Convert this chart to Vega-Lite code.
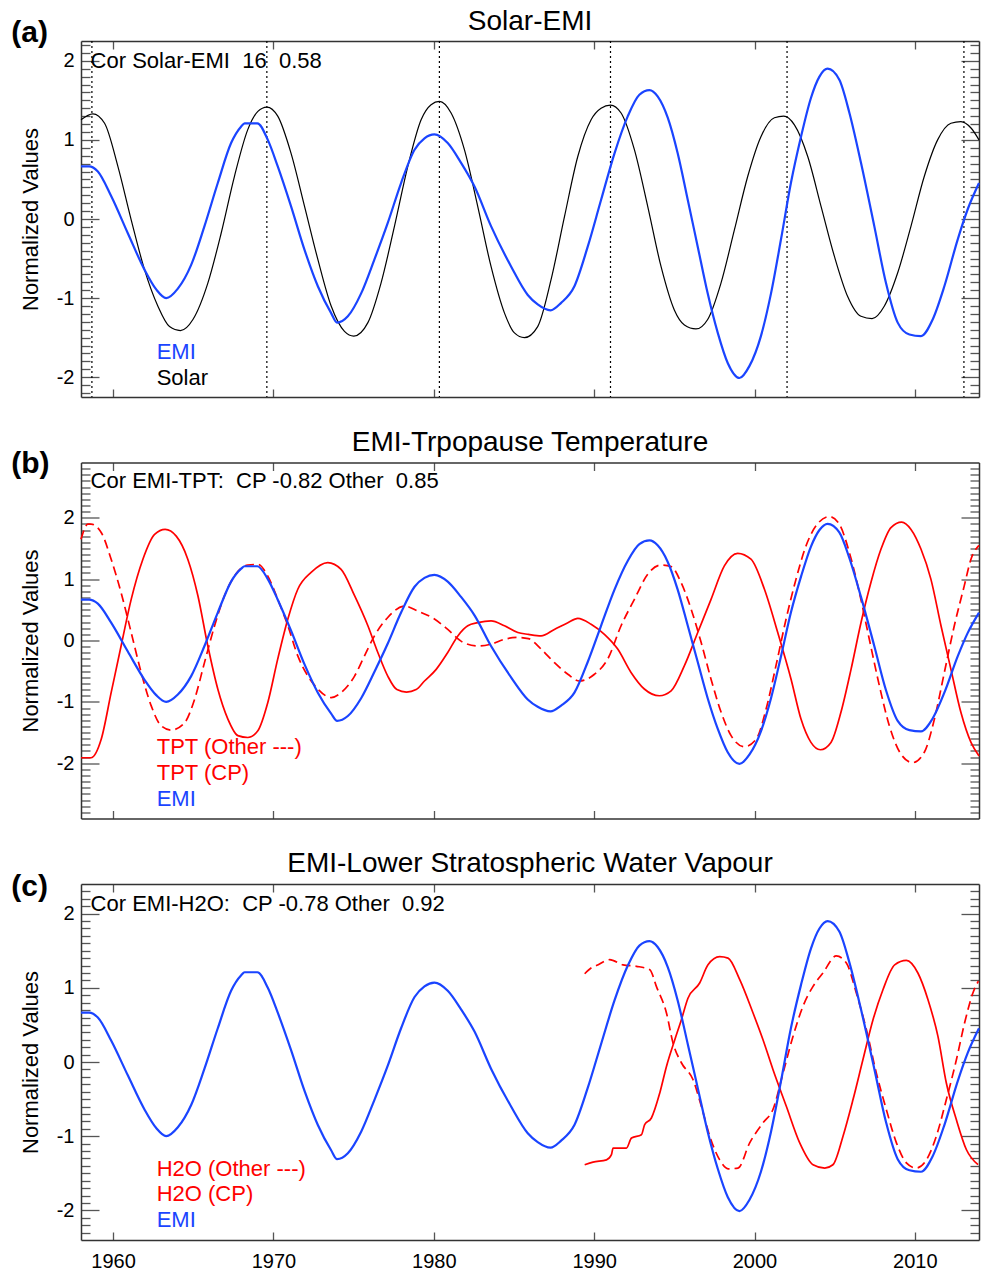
{
  "$schema": "https://vega.github.io/schema/vega-lite/v6.json",
  "padding": {"left": 11, "top": 8, "right": 3, "bottom": 5},
  "autosize": {"type": "pad"},
  "background": "white",
  "spacing": 65.5,
  "bounds": "flush",
  "datasets": {
    "maxima": [{"year": 1958.68}, {"year": 1969.59}, {"year": 1980.35}, {"year": 1991.02}, {"year": 2002.03}, {"year": 2013.06}],
    "emi": [
      {"year": 1958.0, "value": 0.665}, {"year": 1958.5, "value": 0.665}, {"year": 1959.05, "value": 0.6}, {"year": 1959.88, "value": 0.29},
      {"year": 1960.92, "value": -0.18}, {"year": 1961.96, "value": -0.64}, {"year": 1962.69, "value": -0.89}, {"year": 1963.31, "value": -1.0},
      {"year": 1964.04, "value": -0.88}, {"year": 1964.87, "value": -0.58}, {"year": 1965.7, "value": -0.09}, {"year": 1966.53, "value": 0.455},
      {"year": 1967.36, "value": 0.96}, {"year": 1967.99, "value": 1.17}, {"year": 1968.2, "value": 1.21}, {"year": 1969.0, "value": 1.21},
      {"year": 1969.65, "value": 1.0}, {"year": 1970.27, "value": 0.665}, {"year": 1971.1, "value": 0.16}, {"year": 1971.94, "value": -0.39},
      {"year": 1972.77, "value": -0.85}, {"year": 1973.6, "value": -1.19}, {"year": 1973.97, "value": -1.31}, {"year": 1974.64, "value": -1.23},
      {"year": 1975.47, "value": -0.94}, {"year": 1976.3, "value": -0.51}, {"year": 1977.13, "value": -0.05}, {"year": 1977.96, "value": 0.455},
      {"year": 1978.8, "value": 0.876}, {"year": 1979.42, "value": 1.02}, {"year": 1980.04, "value": 1.07}, {"year": 1980.87, "value": 0.96},
      {"year": 1981.7, "value": 0.71}, {"year": 1982.54, "value": 0.41}, {"year": 1983.57, "value": -0.09}, {"year": 1984.82, "value": -0.6},
      {"year": 1985.86, "value": -0.96}, {"year": 1986.48, "value": -1.08}, {"year": 1987.28, "value": -1.155}, {"year": 1987.94, "value": -1.06},
      {"year": 1988.77, "value": -0.85}, {"year": 1989.6, "value": -0.35}, {"year": 1990.43, "value": 0.24}, {"year": 1991.27, "value": 0.83},
      {"year": 1992.1, "value": 1.3}, {"year": 1992.82, "value": 1.57}, {"year": 1993.45, "value": 1.63}, {"year": 1993.96, "value": 1.55},
      {"year": 1994.59, "value": 1.28}, {"year": 1995.21, "value": 0.83}, {"year": 1995.84, "value": 0.24}, {"year": 1996.46, "value": -0.35},
      {"year": 1997.08, "value": -0.94}, {"year": 1997.71, "value": -1.44}, {"year": 1998.33, "value": -1.82}, {"year": 1999.06, "value": -2.01},
      {"year": 1999.68, "value": -1.86}, {"year": 2000.4, "value": -1.48}, {"year": 2001.03, "value": -0.94}, {"year": 2001.65, "value": -0.26},
      {"year": 2002.27, "value": 0.455}, {"year": 2002.9, "value": 1.04}, {"year": 2003.52, "value": 1.53}, {"year": 2004.05, "value": 1.8},
      {"year": 2004.56, "value": 1.9}, {"year": 2005.29, "value": 1.76}, {"year": 2005.92, "value": 1.34}, {"year": 2006.64, "value": 0.71},
      {"year": 2007.47, "value": -0.09}, {"year": 2008.2, "value": -0.81}, {"year": 2008.93, "value": -1.31}, {"year": 2009.66, "value": -1.46},
      {"year": 2010.38, "value": -1.48}, {"year": 2011.11, "value": -1.27}, {"year": 2011.84, "value": -0.85}, {"year": 2012.67, "value": -0.26},
      {"year": 2013.29, "value": 0.12}, {"year": 2014.0, "value": 0.455}
    ],
    "solar": [
      {"year": 1958.0, "value": 1.255}, {"year": 1958.74, "value": 1.33}, {"year": 1959.47, "value": 1.21}, {"year": 1960.3, "value": 0.665},
      {"year": 1961.13, "value": -0.01}, {"year": 1961.96, "value": -0.64}, {"year": 1962.79, "value": -1.1}, {"year": 1963.52, "value": -1.36},
      {"year": 1964.2, "value": -1.41}, {"year": 1964.98, "value": -1.27}, {"year": 1965.91, "value": -0.81}, {"year": 1966.74, "value": -0.18},
      {"year": 1967.57, "value": 0.54}, {"year": 1968.4, "value": 1.13}, {"year": 1969.03, "value": 1.36}, {"year": 1969.59, "value": 1.415},
      {"year": 1970.27, "value": 1.3}, {"year": 1971.1, "value": 0.83}, {"year": 1971.94, "value": 0.16}, {"year": 1972.77, "value": -0.51},
      {"year": 1973.6, "value": -1.1}, {"year": 1974.43, "value": -1.42}, {"year": 1975.01, "value": -1.48}, {"year": 1975.89, "value": -1.31},
      {"year": 1976.71, "value": -0.81}, {"year": 1977.55, "value": -0.09}, {"year": 1978.38, "value": 0.665}, {"year": 1979.21, "value": 1.255},
      {"year": 1979.83, "value": 1.445}, {"year": 1980.35, "value": 1.487}, {"year": 1981.08, "value": 1.34}, {"year": 1981.91, "value": 0.876},
      {"year": 1982.74, "value": 0.16}, {"year": 1983.57, "value": -0.6}, {"year": 1984.41, "value": -1.19}, {"year": 1985.03, "value": -1.44},
      {"year": 1985.65, "value": -1.5}, {"year": 1986.48, "value": -1.36}, {"year": 1987.31, "value": -0.77}, {"year": 1988.15, "value": 0.03},
      {"year": 1988.98, "value": 0.79}, {"year": 1989.81, "value": 1.255}, {"year": 1990.43, "value": 1.4}, {"year": 1991.02, "value": 1.44},
      {"year": 1991.68, "value": 1.34}, {"year": 1992.51, "value": 0.876}, {"year": 1993.34, "value": 0.16}, {"year": 1994.17, "value": -0.6},
      {"year": 1995.0, "value": -1.15}, {"year": 1995.63, "value": -1.34}, {"year": 1996.35, "value": -1.39}, {"year": 1997.08, "value": -1.27},
      {"year": 1997.91, "value": -0.81}, {"year": 1998.75, "value": -0.135}, {"year": 1999.58, "value": 0.54}, {"year": 2000.4, "value": 1.04},
      {"year": 2001.24, "value": 1.28}, {"year": 2001.82, "value": 1.3}, {"year": 2002.49, "value": 1.19}, {"year": 2003.32, "value": 0.79},
      {"year": 2004.15, "value": 0.16}, {"year": 2004.98, "value": -0.47}, {"year": 2005.81, "value": -0.98}, {"year": 2006.64, "value": -1.23},
      {"year": 2007.33, "value": -1.26}, {"year": 2008.1, "value": -1.1}, {"year": 2008.93, "value": -0.68}, {"year": 2009.76, "value": -0.09},
      {"year": 2010.59, "value": 0.54}, {"year": 2011.42, "value": 1.0}, {"year": 2012.25, "value": 1.21}, {"year": 2012.87, "value": 1.23},
      {"year": 2013.5, "value": 1.15}, {"year": 2014.0, "value": 1.0}
    ],
    "tpt_cp": [
      {"year": 1958.0, "value": -1.91}, {"year": 1958.63, "value": -1.91}, {"year": 1959.26, "value": -1.61}, {"year": 1959.88, "value": -0.85},
      {"year": 1960.5, "value": -0.09}, {"year": 1961.13, "value": 0.67}, {"year": 1961.86, "value": 1.325}, {"year": 1962.59, "value": 1.73},
      {"year": 1963.25, "value": 1.81}, {"year": 1963.94, "value": 1.7}, {"year": 1964.66, "value": 1.325}, {"year": 1965.29, "value": 0.73},
      {"year": 1965.91, "value": -0.09}, {"year": 1966.53, "value": -0.79}, {"year": 1967.16, "value": -1.28}, {"year": 1967.78, "value": -1.55},
      {"year": 1968.4, "value": -1.58}, {"year": 1969.03, "value": -1.47}, {"year": 1969.65, "value": -1.01}, {"year": 1970.27, "value": -0.3},
      {"year": 1970.9, "value": 0.35}, {"year": 1971.52, "value": 0.835}, {"year": 1972.35, "value": 1.11}, {"year": 1973.39, "value": 1.27},
      {"year": 1974.22, "value": 1.16}, {"year": 1975.06, "value": 0.73}, {"year": 1975.89, "value": 0.24}, {"year": 1976.51, "value": -0.195},
      {"year": 1977.13, "value": -0.58}, {"year": 1977.7, "value": -0.8}, {"year": 1978.3, "value": -0.84}, {"year": 1978.9, "value": -0.8},
      {"year": 1979.42, "value": -0.66}, {"year": 1980.15, "value": -0.47}, {"year": 1980.87, "value": -0.195}, {"year": 1981.5, "value": 0.075},
      {"year": 1982.12, "value": 0.24}, {"year": 1982.74, "value": 0.29}, {"year": 1983.57, "value": 0.32}, {"year": 1984.41, "value": 0.24},
      {"year": 1985.24, "value": 0.13}, {"year": 1985.9, "value": 0.1}, {"year": 1986.69, "value": 0.075}, {"year": 1987.52, "value": 0.18},
      {"year": 1988.36, "value": 0.29}, {"year": 1988.98, "value": 0.36}, {"year": 1989.81, "value": 0.265}, {"year": 1990.64, "value": 0.1},
      {"year": 1991.47, "value": -0.14}, {"year": 1992.3, "value": -0.52}, {"year": 1993.13, "value": -0.79}, {"year": 1994.07, "value": -0.9},
      {"year": 1994.8, "value": -0.82}, {"year": 1995.63, "value": -0.41}, {"year": 1996.46, "value": 0.13}, {"year": 1997.29, "value": 0.67},
      {"year": 1998.12, "value": 1.215}, {"year": 1998.95, "value": 1.42}, {"year": 1999.78, "value": 1.325}, {"year": 2000.62, "value": 0.835},
      {"year": 2001.45, "value": 0.13}, {"year": 2002.28, "value": -0.63}, {"year": 2002.9, "value": -1.28}, {"year": 2003.52, "value": -1.66},
      {"year": 2004.11, "value": -1.78}, {"year": 2004.77, "value": -1.66}, {"year": 2005.39, "value": -1.17}, {"year": 2006.02, "value": -0.47},
      {"year": 2006.64, "value": 0.29}, {"year": 2007.26, "value": 0.945}, {"year": 2007.89, "value": 1.49}, {"year": 2008.51, "value": 1.84},
      {"year": 2009.18, "value": 1.93}, {"year": 2009.76, "value": 1.81}, {"year": 2010.38, "value": 1.49}, {"year": 2011.0, "value": 1.0},
      {"year": 2011.63, "value": 0.24}, {"year": 2012.25, "value": -0.47}, {"year": 2012.87, "value": -1.17}, {"year": 2013.5, "value": -1.66},
      {"year": 2014.0, "value": -1.88}
    ],
    "tpt_other": [
      {"year": 1958.0, "value": 1.65}, {"year": 1958.43, "value": 1.895}, {"year": 1958.63, "value": 1.895}, {"year": 1959.26, "value": 1.76},
      {"year": 1959.88, "value": 1.325}, {"year": 1960.5, "value": 0.78}, {"year": 1961.13, "value": 0.13}, {"year": 1961.75, "value": -0.52},
      {"year": 1962.38, "value": -1.065}, {"year": 1963.0, "value": -1.39}, {"year": 1963.62, "value": -1.46}, {"year": 1964.46, "value": -1.34},
      {"year": 1965.08, "value": -0.96}, {"year": 1965.7, "value": -0.36}, {"year": 1966.33, "value": 0.24}, {"year": 1966.95, "value": 0.73},
      {"year": 1967.57, "value": 1.05}, {"year": 1968.4, "value": 1.23}, {"year": 1969.03, "value": 1.24}, {"year": 1969.65, "value": 1.05},
      {"year": 1970.27, "value": 0.67}, {"year": 1970.9, "value": 0.24}, {"year": 1971.52, "value": -0.25}, {"year": 1972.15, "value": -0.58},
      {"year": 1972.77, "value": -0.79}, {"year": 1973.6, "value": -0.93}, {"year": 1974.22, "value": -0.85}, {"year": 1975.06, "value": -0.58},
      {"year": 1975.68, "value": -0.25}, {"year": 1976.3, "value": 0.075}, {"year": 1977.13, "value": 0.375}, {"year": 1978.17, "value": 0.56},
      {"year": 1979.0, "value": 0.48}, {"year": 1980.04, "value": 0.35}, {"year": 1980.87, "value": 0.18}, {"year": 1981.7, "value": -0.01},
      {"year": 1982.74, "value": -0.09}, {"year": 1983.57, "value": -0.06}, {"year": 1984.41, "value": 0.02}, {"year": 1985.24, "value": 0.05},
      {"year": 1985.9, "value": 0.03}, {"year": 1986.69, "value": -0.14}, {"year": 1987.52, "value": -0.36}, {"year": 1988.36, "value": -0.55},
      {"year": 1989.08, "value": -0.66}, {"year": 1990.02, "value": -0.55}, {"year": 1990.85, "value": -0.3}, {"year": 1991.68, "value": 0.24},
      {"year": 1992.51, "value": 0.67}, {"year": 1993.34, "value": 1.08}, {"year": 1994.17, "value": 1.23}, {"year": 1994.8, "value": 1.205},
      {"year": 1995.42, "value": 0.945}, {"year": 1996.05, "value": 0.51}, {"year": 1996.67, "value": -0.03}, {"year": 1997.29, "value": -0.63},
      {"year": 1997.92, "value": -1.17}, {"year": 1998.54, "value": -1.55}, {"year": 1999.37, "value": -1.73}, {"year": 2000.1, "value": -1.61},
      {"year": 2000.72, "value": -1.12}, {"year": 2001.34, "value": -0.41}, {"year": 2001.97, "value": 0.35}, {"year": 2002.59, "value": 1.0},
      {"year": 2003.21, "value": 1.54}, {"year": 2003.84, "value": 1.87}, {"year": 2004.67, "value": 2.02}, {"year": 2005.29, "value": 1.895},
      {"year": 2005.92, "value": 1.43}, {"year": 2006.54, "value": 0.78}, {"year": 2007.16, "value": 0.02}, {"year": 2007.79, "value": -0.74},
      {"year": 2008.41, "value": -1.39}, {"year": 2009.13, "value": -1.85}, {"year": 2009.86, "value": -1.99}, {"year": 2010.59, "value": -1.82},
      {"year": 2011.22, "value": -1.28}, {"year": 2011.84, "value": -0.52}, {"year": 2012.46, "value": 0.24}, {"year": 2013.08, "value": 0.89},
      {"year": 2013.5, "value": 1.325}, {"year": 2014.0, "value": 1.55}
    ],
    "h2o_cp": [
      {"year": 1989.41, "value": -1.385}, {"year": 1989.93, "value": -1.35}, {"year": 1990.77, "value": -1.32}, {"year": 1991.08, "value": -1.25},
      {"year": 1991.18, "value": -1.16}, {"year": 1992.01, "value": -1.16}, {"year": 1992.33, "value": -1.025}, {"year": 1992.95, "value": -0.98},
      {"year": 1993.15, "value": -0.845}, {"year": 1993.57, "value": -0.755}, {"year": 1994.09, "value": -0.42}, {"year": 1994.51, "value": -0.06},
      {"year": 1995.03, "value": 0.3}, {"year": 1995.44, "value": 0.57}, {"year": 1995.85, "value": 0.86}, {"year": 1996.58, "value": 1.065},
      {"year": 1997.1, "value": 1.31}, {"year": 1997.83, "value": 1.42}, {"year": 1998.35, "value": 1.4}, {"year": 1999.08, "value": 1.11},
      {"year": 1999.91, "value": 0.66}, {"year": 2000.53, "value": 0.3}, {"year": 2001.15, "value": -0.1}, {"year": 2001.99, "value": -0.6},
      {"year": 2002.82, "value": -1.09}, {"year": 2003.65, "value": -1.385}, {"year": 2004.38, "value": -1.43}, {"year": 2004.89, "value": -1.385},
      {"year": 2005.52, "value": -1.0}, {"year": 2006.14, "value": -0.51}, {"year": 2006.76, "value": 0.03}, {"year": 2007.39, "value": 0.57},
      {"year": 2008.01, "value": 0.975}, {"year": 2008.74, "value": 1.31}, {"year": 2009.47, "value": 1.37}, {"year": 2010.19, "value": 1.2},
      {"year": 2010.82, "value": 0.84}, {"year": 2011.44, "value": 0.345}, {"year": 2011.96, "value": -0.28}, {"year": 2012.59, "value": -0.78},
      {"year": 2013.21, "value": -1.18}, {"year": 2013.94, "value": -1.385}
    ],
    "h2o_other": [
      {"year": 1989.41, "value": 1.19}, {"year": 1989.83, "value": 1.27}, {"year": 1990.14, "value": 1.3}, {"year": 1990.97, "value": 1.38},
      {"year": 1991.8, "value": 1.31}, {"year": 1992.64, "value": 1.29}, {"year": 1993.47, "value": 1.245}, {"year": 1993.88, "value": 1.02},
      {"year": 1994.51, "value": 0.66}, {"year": 1994.92, "value": 0.255}, {"year": 1995.44, "value": -0.01}, {"year": 1996.17, "value": -0.24},
      {"year": 1996.69, "value": -0.6}, {"year": 1997.21, "value": -1.0}, {"year": 1997.83, "value": -1.32}, {"year": 1998.35, "value": -1.44},
      {"year": 1998.97, "value": -1.43}, {"year": 1999.7, "value": -1.09}, {"year": 2000.53, "value": -0.82}, {"year": 2001.15, "value": -0.64},
      {"year": 2001.78, "value": -0.15}, {"year": 2002.4, "value": 0.345}, {"year": 2003.02, "value": 0.75}, {"year": 2003.65, "value": 1.02},
      {"year": 2004.27, "value": 1.2}, {"year": 2005.1, "value": 1.43}, {"year": 2005.73, "value": 1.335}, {"year": 2006.35, "value": 0.93},
      {"year": 2006.98, "value": 0.435}, {"year": 2007.6, "value": -0.15}, {"year": 2008.22, "value": -0.64}, {"year": 2008.85, "value": -1.09},
      {"year": 2009.47, "value": -1.36}, {"year": 2010.09, "value": -1.43}, {"year": 2010.72, "value": -1.32}, {"year": 2011.34, "value": -1.0},
      {"year": 2011.96, "value": -0.51}, {"year": 2012.59, "value": 0.03}, {"year": 2013.1, "value": 0.525}, {"year": 2013.62, "value": 0.93},
      {"year": 2013.96, "value": 1.09}
    ]
  },
  "vconcat": [
    {
      "title": {"text": "Solar-EMI", "offset": -18},
      "width": 898, "height": 356,
      "resolve": {"axis": {"x": "independent", "y": "independent"}},
      "layer": [
        {"data": {"name": "maxima"}, "mark": {"type": "rule", "strokeDash": [2, 3], "color": "#000", "strokeWidth": 1.2},
         "encoding": {"x": {"field": "year", "type": "quantitative", "scale": {"domain": [1958, 2014], "nice": false, "zero": false}, "axis": null}}},
        {"data": {"name": "solar"}, "mark": {"type": "line", "color": "#000", "strokeWidth": 1.2, "interpolate": "monotone"},
         "encoding": {
           "x": {"field": "year", "type": "quantitative", "scale": {"domain": [1958, 2014], "nice": false, "zero": false},
                 "axis": {"orient": "top", "values": [1960, 1970, 1980, 1990, 2000, 2010], "tickSize": -8, "labels": false, "title": null}},
           "y": {"field": "value", "type": "quantitative", "scale": {"domain": [-2.25, 2.25], "nice": false, "zero": false},
                 "axis": {"orient": "right", "values": [-2.2,-2.1,-2,-1.9,-1.8,-1.7,-1.6,-1.5,-1.4,-1.3,-1.2,-1.1,-1,-0.9,-0.8,-0.7,-0.6,-0.5,-0.4,-0.3,-0.2,-0.1,0,0.1,0.2,0.3,0.4,0.5,0.6,0.7,0.8,0.9,1,1.1,1.2,1.3,1.4,1.5,1.6,1.7,1.8,1.9,2,2.1,2.2],
                          "tickSize": {"condition": {"test": "datum.value % 1 === 0", "value": -18}, "value": -9}, "labels": false, "title": null}}}},
        {"data": {"name": "emi"}, "mark": {"type": "line", "color": "#1a44ff", "strokeWidth": 2.2, "interpolate": "monotone"},
         "encoding": {
           "x": {"field": "year", "type": "quantitative", "scale": {"domain": [1958, 2014], "nice": false, "zero": false},
                 "axis": {"orient": "bottom", "values": [1960, 1970, 1980, 1990, 2000, 2010], "tickSize": -8, "labels": false, "title": null}},
           "y": {"field": "value", "type": "quantitative", "scale": {"domain": [-2.25, 2.25], "nice": false, "zero": false},
                 "axis": {"orient": "left", "values": [-2.2,-2.1,-2,-1.9,-1.8,-1.7,-1.6,-1.5,-1.4,-1.3,-1.2,-1.1,-1,-0.9,-0.8,-0.7,-0.6,-0.5,-0.4,-0.3,-0.2,-0.1,0,0.1,0.2,0.3,0.4,0.5,0.6,0.7,0.8,0.9,1,1.1,1.2,1.3,1.4,1.5,1.6,1.7,1.8,1.9,2,2.1,2.2],
                          "tickSize": {"condition": {"test": "datum.value % 1 === 0", "value": -18}, "value": -9},
                          "labelExpr": "datum.value % 1 === 0 ? '' + datum.value : ''", "labelPadding": 25, "labelOverlap": false,
                          "title": "Normalized Values", "titlePadding": 14}}}},
        {"data": {"values": [{}]}, "mark": {"type": "text", "text": "(a)", "align": "left", "baseline": "alphabetic", "fontSize": 30, "fontWeight": "bold", "color": "#000"},
         "encoding": {"x": {"datum": 1953.65, "type": "quantitative", "scale": {"domain": [1958, 2014], "nice": false, "zero": false}, "axis": null},
                      "y": {"datum": 2.233, "type": "quantitative", "scale": {"domain": [-2.25, 2.25], "nice": false, "zero": false}, "axis": null}}},
        {"data": {"values": [{}]}, "mark": {"type": "text", "text": "Cor Solar-EMI\u00a0 16\u00a0 0.58", "align": "left", "baseline": "alphabetic", "fontSize": 22, "color": "#000"},
         "encoding": {"x": {"datum": 1958.6, "type": "quantitative", "scale": {"domain": [1958, 2014], "nice": false, "zero": false}, "axis": null},
                      "y": {"datum": 1.909, "type": "quantitative", "scale": {"domain": [-2.25, 2.25], "nice": false, "zero": false}, "axis": null}}},
        {"data": {"values": [{}]}, "mark": {"type": "text", "text": "EMI", "align": "left", "baseline": "alphabetic", "fontSize": 22, "color": "#1a44ff"},
         "encoding": {"x": {"datum": 1962.72, "type": "quantitative", "scale": {"domain": [1958, 2014], "nice": false, "zero": false}, "axis": null},
                      "y": {"datum": -1.77, "type": "quantitative", "scale": {"domain": [-2.25, 2.25], "nice": false, "zero": false}, "axis": null}}},
        {"data": {"values": [{}]}, "mark": {"type": "text", "text": "Solar", "align": "left", "baseline": "alphabetic", "fontSize": 22, "color": "#000"},
         "encoding": {"x": {"datum": 1962.72, "type": "quantitative", "scale": {"domain": [1958, 2014], "nice": false, "zero": false}, "axis": null},
                      "y": {"datum": -2.095, "type": "quantitative", "scale": {"domain": [-2.25, 2.25], "nice": false, "zero": false}, "axis": null}}}
      ]
    },
    {
      "title": {"text": "EMI-Trpopause Temperature", "offset": -8},
      "width": 898, "height": 356,
      "resolve": {"axis": {"x": "independent", "y": "independent"}},
      "layer": [
        {"data": {"name": "tpt_other"}, "mark": {"type": "line", "color": "#ff0000", "strokeWidth": 1.7, "strokeDash": [9, 5], "interpolate": "monotone"},
         "encoding": {
           "x": {"field": "year", "type": "quantitative", "scale": {"domain": [1958, 2014], "nice": false, "zero": false}, "axis": null},
           "y": {"field": "value", "type": "quantitative", "scale": {"domain": [-2.9, 2.9], "nice": false, "zero": false}, "axis": null}}},
        {"data": {"name": "tpt_cp"}, "mark": {"type": "line", "color": "#ff0000", "strokeWidth": 1.7, "interpolate": "monotone"},
         "encoding": {
           "x": {"field": "year", "type": "quantitative", "scale": {"domain": [1958, 2014], "nice": false, "zero": false},
                 "axis": {"orient": "top", "values": [1960, 1970, 1980, 1990, 2000, 2010], "tickSize": -8, "labels": false, "title": null}},
           "y": {"field": "value", "type": "quantitative", "scale": {"domain": [-2.9, 2.9], "nice": false, "zero": false},
                 "axis": {"orient": "right", "values": [-2.8,-2.7,-2.6,-2.5,-2.4,-2.3,-2.2,-2.1,-2,-1.9,-1.8,-1.7,-1.6,-1.5,-1.4,-1.3,-1.2,-1.1,-1,-0.9,-0.8,-0.7,-0.6,-0.5,-0.4,-0.3,-0.2,-0.1,0,0.1,0.2,0.3,0.4,0.5,0.6,0.7,0.8,0.9,1,1.1,1.2,1.3,1.4,1.5,1.6,1.7,1.8,1.9,2,2.1,2.2,2.3,2.4,2.5,2.6,2.7,2.8],
                          "tickSize": {"condition": {"test": "datum.value % 1 === 0", "value": -18}, "value": -9}, "labels": false, "title": null}}}},
        {"data": {"name": "emi"}, "mark": {"type": "line", "color": "#1a44ff", "strokeWidth": 2.2, "interpolate": "monotone"},
         "encoding": {
           "x": {"field": "year", "type": "quantitative", "scale": {"domain": [1958, 2014], "nice": false, "zero": false},
                 "axis": {"orient": "bottom", "values": [1960, 1970, 1980, 1990, 2000, 2010], "tickSize": -8, "labels": false, "title": null}},
           "y": {"field": "value", "type": "quantitative", "scale": {"domain": [-2.9, 2.9], "nice": false, "zero": false},
                 "axis": {"orient": "left", "values": [-2.8,-2.7,-2.6,-2.5,-2.4,-2.3,-2.2,-2.1,-2,-1.9,-1.8,-1.7,-1.6,-1.5,-1.4,-1.3,-1.2,-1.1,-1,-0.9,-0.8,-0.7,-0.6,-0.5,-0.4,-0.3,-0.2,-0.1,0,0.1,0.2,0.3,0.4,0.5,0.6,0.7,0.8,0.9,1,1.1,1.2,1.3,1.4,1.5,1.6,1.7,1.8,1.9,2,2.1,2.2,2.3,2.4,2.5,2.6,2.7,2.8],
                          "tickSize": {"condition": {"test": "datum.value % 1 === 0", "value": -18}, "value": -9},
                          "labelExpr": "datum.value % 1 === 0 ? '' + datum.value : ''", "labelPadding": 25, "labelOverlap": false,
                          "title": "Normalized Values", "titlePadding": 14}}}},
        {"data": {"values": [{}]}, "mark": {"type": "text", "text": "(b)", "align": "left", "baseline": "alphabetic", "fontSize": 30, "fontWeight": "bold", "color": "#000"},
         "encoding": {"x": {"datum": 1953.65, "type": "quantitative", "scale": {"domain": [1958, 2014], "nice": false, "zero": false}, "axis": null},
                      "y": {"datum": 2.737, "type": "quantitative", "scale": {"domain": [-2.9, 2.9], "nice": false, "zero": false}, "axis": null}}},
        {"data": {"values": [{}]}, "mark": {"type": "text", "text": "Cor EMI-TPT:\u00a0 CP -0.82 Other\u00a0 0.85", "align": "left", "baseline": "alphabetic", "fontSize": 22, "color": "#000"},
         "encoding": {"x": {"datum": 1958.6, "type": "quantitative", "scale": {"domain": [1958, 2014], "nice": false, "zero": false}, "axis": null},
                      "y": {"datum": 2.49, "type": "quantitative", "scale": {"domain": [-2.9, 2.9], "nice": false, "zero": false}, "axis": null}}},
        {"data": {"values": [{}]}, "mark": {"type": "text", "text": "TPT (Other ---)", "align": "left", "baseline": "alphabetic", "fontSize": 22, "color": "#ff0000"},
         "encoding": {"x": {"datum": 1962.72, "type": "quantitative", "scale": {"domain": [1958, 2014], "nice": false, "zero": false}, "axis": null},
                      "y": {"datum": -1.852, "type": "quantitative", "scale": {"domain": [-2.9, 2.9], "nice": false, "zero": false}, "axis": null}}},
        {"data": {"values": [{}]}, "mark": {"type": "text", "text": "TPT (CP)", "align": "left", "baseline": "alphabetic", "fontSize": 22, "color": "#ff0000"},
         "encoding": {"x": {"datum": 1962.72, "type": "quantitative", "scale": {"domain": [1958, 2014], "nice": false, "zero": false}, "axis": null},
                      "y": {"datum": -2.27, "type": "quantitative", "scale": {"domain": [-2.9, 2.9], "nice": false, "zero": false}, "axis": null}}},
        {"data": {"values": [{}]}, "mark": {"type": "text", "text": "EMI", "align": "left", "baseline": "alphabetic", "fontSize": 22, "color": "#1a44ff"},
         "encoding": {"x": {"datum": 1962.72, "type": "quantitative", "scale": {"domain": [1958, 2014], "nice": false, "zero": false}, "axis": null},
                      "y": {"datum": -2.69, "type": "quantitative", "scale": {"domain": [-2.9, 2.9], "nice": false, "zero": false}, "axis": null}}}
      ]
    },
    {
      "title": {"text": "EMI-Lower Stratospheric Water Vapour", "offset": -6},
      "width": 898, "height": 356,
      "resolve": {"axis": {"x": "independent", "y": "independent"}},
      "layer": [
        {"data": {"name": "h2o_other"}, "mark": {"type": "line", "color": "#ff0000", "strokeWidth": 1.7, "strokeDash": [9, 5], "interpolate": "monotone"},
         "encoding": {
           "x": {"field": "year", "type": "quantitative", "scale": {"domain": [1958, 2014], "nice": false, "zero": false}, "axis": null},
           "y": {"field": "value", "type": "quantitative", "scale": {"domain": [-2.4, 2.4], "nice": false, "zero": false}, "axis": null}}},
        {"data": {"name": "h2o_cp"}, "mark": {"type": "line", "color": "#ff0000", "strokeWidth": 1.7, "interpolate": "monotone"},
         "encoding": {
           "x": {"field": "year", "type": "quantitative", "scale": {"domain": [1958, 2014], "nice": false, "zero": false},
                 "axis": {"orient": "top", "values": [1960, 1970, 1980, 1990, 2000, 2010], "tickSize": -8, "labels": false, "title": null}},
           "y": {"field": "value", "type": "quantitative", "scale": {"domain": [-2.4, 2.4], "nice": false, "zero": false},
                 "axis": {"orient": "right", "values": [-2.3,-2.2,-2.1,-2,-1.9,-1.8,-1.7,-1.6,-1.5,-1.4,-1.3,-1.2,-1.1,-1,-0.9,-0.8,-0.7,-0.6,-0.5,-0.4,-0.3,-0.2,-0.1,0,0.1,0.2,0.3,0.4,0.5,0.6,0.7,0.8,0.9,1,1.1,1.2,1.3,1.4,1.5,1.6,1.7,1.8,1.9,2,2.1,2.2,2.3],
                          "tickSize": {"condition": {"test": "datum.value % 1 === 0", "value": -18}, "value": -9}, "labels": false, "title": null}}}},
        {"data": {"name": "emi"}, "mark": {"type": "line", "color": "#1a44ff", "strokeWidth": 2.2, "interpolate": "monotone"},
         "encoding": {
           "x": {"field": "year", "type": "quantitative", "scale": {"domain": [1958, 2014], "nice": false, "zero": false},
                 "axis": {"orient": "bottom", "values": [1960, 1970, 1980, 1990, 2000, 2010], "tickSize": -8, "format": "d", "labelPadding": 19, "title": null}},
           "y": {"field": "value", "type": "quantitative", "scale": {"domain": [-2.4, 2.4], "nice": false, "zero": false},
                 "axis": {"orient": "left", "values": [-2.3,-2.2,-2.1,-2,-1.9,-1.8,-1.7,-1.6,-1.5,-1.4,-1.3,-1.2,-1.1,-1,-0.9,-0.8,-0.7,-0.6,-0.5,-0.4,-0.3,-0.2,-0.1,0,0.1,0.2,0.3,0.4,0.5,0.6,0.7,0.8,0.9,1,1.1,1.2,1.3,1.4,1.5,1.6,1.7,1.8,1.9,2,2.1,2.2,2.3],
                          "tickSize": {"condition": {"test": "datum.value % 1 === 0", "value": -18}, "value": -9},
                          "labelExpr": "datum.value % 1 === 0 ? '' + datum.value : ''", "labelPadding": 25, "labelOverlap": false,
                          "title": "Normalized Values", "titlePadding": 14}}}},
        {"data": {"values": [{}]}, "mark": {"type": "text", "text": "(c)", "align": "left", "baseline": "alphabetic", "fontSize": 30, "fontWeight": "bold", "color": "#000"},
         "encoding": {"x": {"datum": 1953.65, "type": "quantitative", "scale": {"domain": [1958, 2014], "nice": false, "zero": false}, "axis": null},
                      "y": {"datum": 2.242, "type": "quantitative", "scale": {"domain": [-2.4, 2.4], "nice": false, "zero": false}, "axis": null}}},
        {"data": {"values": [{}]}, "mark": {"type": "text", "text": "Cor EMI-H2O:\u00a0 CP -0.78 Other\u00a0 0.92", "align": "left", "baseline": "alphabetic", "fontSize": 22, "color": "#000"},
         "encoding": {"x": {"datum": 1958.6, "type": "quantitative", "scale": {"domain": [1958, 2014], "nice": false, "zero": false}, "axis": null},
                      "y": {"datum": 2.04, "type": "quantitative", "scale": {"domain": [-2.4, 2.4], "nice": false, "zero": false}, "axis": null}}},
        {"data": {"values": [{}]}, "mark": {"type": "text", "text": "H2O (Other ---)", "align": "left", "baseline": "alphabetic", "fontSize": 22, "color": "#ff0000"},
         "encoding": {"x": {"datum": 1962.72, "type": "quantitative", "scale": {"domain": [1958, 2014], "nice": false, "zero": false}, "axis": null},
                      "y": {"datum": -1.542, "type": "quantitative", "scale": {"domain": [-2.4, 2.4], "nice": false, "zero": false}, "axis": null}}},
        {"data": {"values": [{}]}, "mark": {"type": "text", "text": "H2O (CP)", "align": "left", "baseline": "alphabetic", "fontSize": 22, "color": "#ff0000"},
         "encoding": {"x": {"datum": 1962.72, "type": "quantitative", "scale": {"domain": [1958, 2014], "nice": false, "zero": false}, "axis": null},
                      "y": {"datum": -1.879, "type": "quantitative", "scale": {"domain": [-2.4, 2.4], "nice": false, "zero": false}, "axis": null}}},
        {"data": {"values": [{}]}, "mark": {"type": "text", "text": "EMI", "align": "left", "baseline": "alphabetic", "fontSize": 22, "color": "#1a44ff"},
         "encoding": {"x": {"datum": 1962.72, "type": "quantitative", "scale": {"domain": [1958, 2014], "nice": false, "zero": false}, "axis": null},
                      "y": {"datum": -2.225, "type": "quantitative", "scale": {"domain": [-2.4, 2.4], "nice": false, "zero": false}, "axis": null}}}
      ]
    }
  ],
  "config": {
    "font": "Liberation Sans",
    "view": {"stroke": null},
    "axis": {"domainColor": "#333333", "domainWidth": 1.5, "tickColor": "#555555", "tickWidth": 1.3, "labelFontSize": 20, "labelColor": "#000000", "labelFont": "Liberation Sans", "grid": false, "titleFontSize": 22, "titleFontWeight": "normal", "titleColor": "#000000", "titleFont": "Liberation Sans"},
    "title": {"fontSize": 28, "fontWeight": "normal", "color": "#000000", "font": "Liberation Sans", "frame": "group", "baseline": "alphabetic"}
  }
}
